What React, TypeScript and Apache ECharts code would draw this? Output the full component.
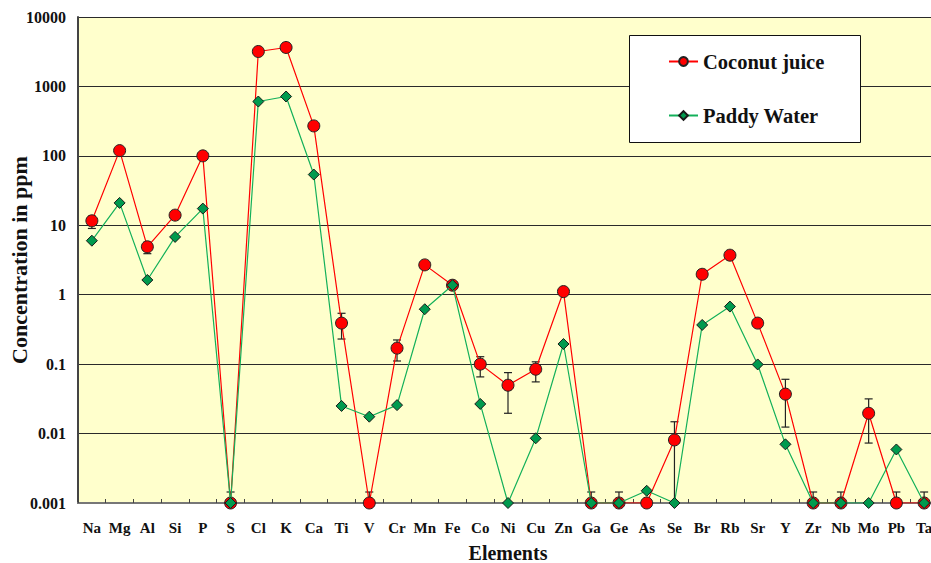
import React, { useEffect, useRef } from "react";
import * as echarts from "echarts";

// Elements analysed (x axis)
const elements = [
  "Na", "Mg", "Al", "Si", "P", "S", "Cl", "K", "Ca", "Ti", "V", "Cr", "Mn", "Fe", "Co", "Ni",
  "Cu", "Zn", "Ga", "Ge", "As", "Se", "Br", "Rb", "Sr", "Y", "Zr", "Nb", "Mo", "Pb", "Ta",
];

// Concentrations in ppm (0.001 = below detection, drawn on the floor of the axis)
const coconutJuice = [
  11.6, 119, 4.9, 14, 100, 0.001, 3185, 3640, 270, 0.39, 0.001, 0.17, 2.69, 1.37, 0.1, 0.0497,
  0.0845, 1.11, 0.001, 0.001, 0.001, 0.0081, 1.97, 3.71, 0.39, 0.037, 0.001, 0.001, 0.0196, 0.001, 0.001,
];
const paddyWater = [
  6.0, 21, 1.63, 6.8, 17.4, 0.001, 606, 716, 53.8, 0.025, 0.0175, 0.0257, 0.618, 1.37, 0.0267, 0.001,
  0.00855, 0.195, 0.001, 0.001, 0.0015, 0.001, 0.367, 0.675, 0.099, 0.007, 0.001, 0.001, 0.001, 0.0059, 0.001,
];

// Error bars on the coconut juice values (null = none)
const errLow = [
  9.0, null, 3.9, null, null, 0.001, null, null, null, 0.23, 0.001, 0.111, null, null, 0.0655, 0.0196,
  0.0555, null, 0.001, 0.001, null, 0.001, null, null, null, 0.0124, 0.001, 0.001, 0.0073, 0.001, 0.001,
];
const errHigh = [
  13.5, null, 5.7, null, null, 0.00144, null, null, null, 0.54, 0.00144, 0.223, null, null, 0.128, 0.0755,
  0.108, null, 0.00144, 0.00144, null, 0.0148, null, null, null, 0.0605, 0.00144, 0.00144, 0.0316, 0.00144, 0.00144,
];

const yTickLabels = ["0.001", "0.01", "0.1", "1", "10", "100", "1000", "10000"];

const FONT = "Liberation Serif, serif";

export default function App() {
  const ref = useRef<HTMLDivElement>(null);

  useEffect(() => {
    if (!ref.current) return;
    const chart = echarts.init(ref.current, null, { renderer: "svg" });

    const errData: number[][] = [];
    elements.forEach((_, i) => {
      const lo = errLow[i];
      const hi = errHigh[i];
      if (lo != null && hi != null) errData.push([i, lo, hi]);
    });

    chart.setOption({
      animation: false,
      textStyle: { fontFamily: FONT },
      grid: {
        left: 78,
        top: 17,
        right: -7,
        bottom: 60,
        containLabel: false,
        outerBoundsMode: "none",
        show: true,
        backgroundColor: "#FFFFCC",
        borderWidth: 0,
      },
      legend: {
        orient: "vertical",
        left: 668,
        top: 51,
        padding: 0,
        itemWidth: 29,
        itemHeight: 11,
        itemGap: 33,
        z: 10,
        data: ["Coconut juice", "Paddy Water"],
        textStyle: {
          fontFamily: FONT,
          fontWeight: "bold",
          fontSize: 20.5,
          lineHeight: 20,
          color: "#111",
        },
      },
      graphic: [
        {
          type: "rect",
          z: 5,
          shape: { x: 629.5, y: 35.5, width: 231, height: 107 },
          style: { fill: "#fff", stroke: "#111", lineWidth: 1 },
        },
      ],
      xAxis: {
        type: "category",
        data: elements,
        boundaryGap: true,
        name: "Elements",
        nameLocation: "middle",
        nameGap: 40,
        nameMoveOverlap: false,
        nameTextStyle: { fontFamily: FONT, fontWeight: "bold", fontSize: 20, lineHeight: 20, color: "#111" },
        axisLine: { lineStyle: { color: "#777", width: 2 } },
        axisTick: { show: true, inside: true, length: 4, lineStyle: { color: "#444" } },
        axisLabel: {
          interval: 0,
          margin: 17,
          fontFamily: FONT,
          fontWeight: "bold",
          fontSize: 15,
          color: "#111",
        },
        splitLine: { show: false },
      },
      yAxis: {
        type: "log",
        logBase: 10,
        min: 0.001,
        max: 10000,
        name: "Concentration in ppm",
        nameLocation: "middle",
        nameGap: 48,
        nameMoveOverlap: false,
        nameTextStyle: { fontFamily: FONT, fontWeight: "bold", fontSize: 22, lineHeight: 22, color: "#111" },
        axisLine: { show: true, lineStyle: { color: "#444", width: 2 } },
        axisTick: { show: false },
        axisLabel: {
          margin: 12,
          fontFamily: FONT,
          fontWeight: "bold",
          fontSize: 16,
          color: "#111",
          formatter: (v: number) => yTickLabels[Math.round(Math.log10(v)) + 3] ?? "",
        },
        splitLine: { show: true, lineStyle: { color: "#2a2a2a", width: 1 } },
      },
      series: [
        {
          type: "custom",
          name: "err",
          z: 1,
          data: errData,
          encode: { x: 0, y: [1, 2] },
          renderItem: (_params: any, api: any) => {
            const i = api.value(0);
            const lo = api.coord([i, api.value(1)]);
            const hi = api.coord([i, api.value(2)]);
            const half = 4;
            const style = { stroke: "#222", lineWidth: 1.2 };
            return {
              type: "group",
              children: [
                { type: "line", shape: { x1: hi[0], y1: hi[1], x2: lo[0], y2: lo[1] }, style },
                { type: "line", shape: { x1: hi[0] - half, y1: hi[1], x2: hi[0] + half, y2: hi[1] }, style },
                { type: "line", shape: { x1: lo[0] - half, y1: lo[1], x2: lo[0] + half, y2: lo[1] }, style },
              ],
            };
          },
        },
        {
          type: "line",
          name: "Coconut juice",
          z: 2,
          data: coconutJuice,
          symbol: "circle",
          symbolSize: 12,
          lineStyle: { color: "#FF0000", width: 1.2 },
          itemStyle: { color: "#FF0000", borderColor: "#222", borderWidth: 1 },
        },
        {
          type: "line",
          name: "Paddy Water",
          z: 3,
          data: paddyWater,
          symbol: "diamond",
          symbolSize: 11,
          lineStyle: { color: "#13B05A", width: 1.2 },
          itemStyle: { color: "#009A4E", borderColor: "#1a1a1a", borderWidth: 1 },
        },
      ],
    });

    return () => chart.dispose();
  }, []);

  return (
    <div
      ref={ref}
      style={{ position: "fixed", left: 0, top: 0, width: 931, height: 563, background: "#fff" }}
    />
  );
}
